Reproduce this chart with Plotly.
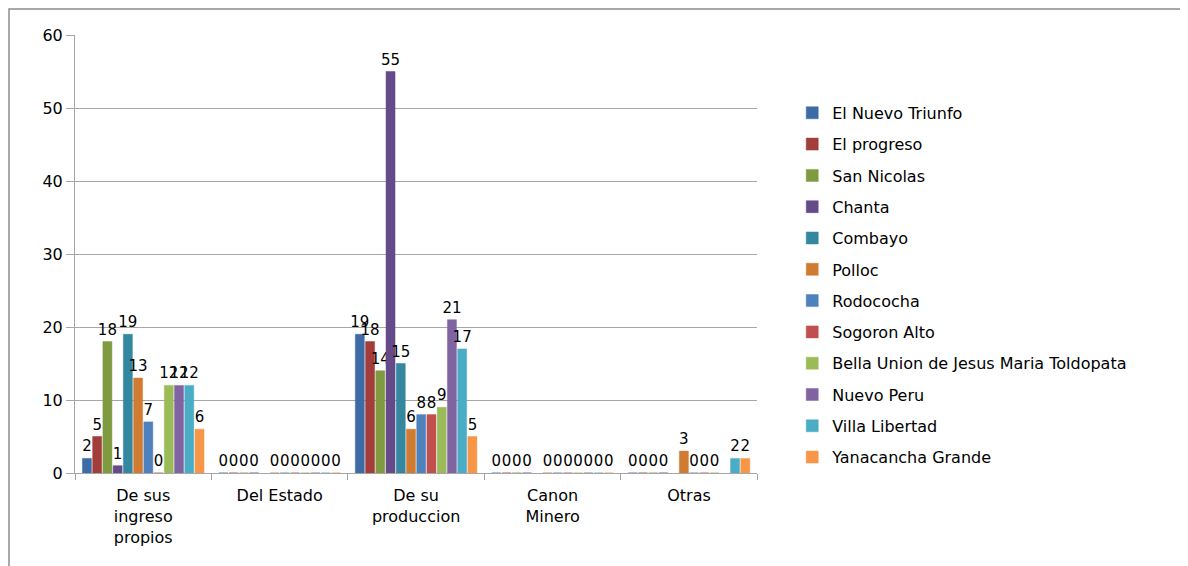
import plotly.graph_objects as go

categories = ["De sus<br>ingreso<br>propios", "Del Estado", "De su<br>produccion", "Canon<br>Minero", "Otras"]

series_names = [
    "El Nuevo Triunfo", "El progreso", "San Nicolas", "Chanta", "Combayo", "Polloc",
    "Rodococha", "Sogoron Alto", "Bella Union de Jesus Maria Toldopata", "Nuevo Peru",
    "Villa Libertad", "Yanacancha Grande",
]

# one list per series, values across the 5 categories (None = blank cell)
el_nuevo_triunfo = [2, 0, 19, 0, 0]
el_progreso = [5, 0, 18, 0, 0]
san_nicolas = [18, 0, 14, 0, 0]
chanta = [1, 0, 55, 0, 0]
combayo = [19, None, 15, None, None]
polloc = [13, 0, 6, 0, 3]
rodococha = [7, 0, 8, 0, 0]
sogoron_alto = [0, 0, 8, 0, 0]
bella_union = [12, 0, 9, 0, 0]
nuevo_peru = [12, 0, 21, 0, None]
villa_libertad = [12, 0, 17, 0, 2]
yanacancha_grande = [6, 0, 5, 0, 2]

values = [
    el_nuevo_triunfo, el_progreso, san_nicolas, chanta, combayo, polloc,
    rodococha, sogoron_alto, bella_union, nuevo_peru, villa_libertad, yanacancha_grande,
]

colors = [
    "#3D6BA6", "#A33D3A", "#7E9B40", "#654A8A", "#33879E", "#D07B32",
    "#4F81BD", "#C0504D", "#9BBB59", "#8064A2", "#4BACC6", "#F79646",
]

fig = go.Figure()
for name, vals, col in zip(series_names, values, colors):
    fig.add_trace(go.Bar(
        name=name,
        legendgroup=name,
        x=categories,
        y=vals,
        marker=dict(color=col, line=dict(color=col, width=0.5)),
        text=[("" if v is None else str(v)) for v in vals],
        textposition="outside",
        constraintext="none",
        textfont=dict(family="DejaVu Sans", size=15, color="#000000"),
        cliponaxis=False,
    ))

fig.update_layout(
    width=1188,
    height=566,
    barmode="group",
    bargap=0.1,
    bargroupgap=0.12,
    plot_bgcolor="white",
    paper_bgcolor="white",
    margin=dict(l=67, r=60, t=27, b=101),
    font=dict(family="DejaVu Sans", size=16, color="#000000"),
    xaxis=dict(
        domain=[0, 0.643],
        showline=True,
        linecolor="#A6A6A6",
        ticks="outside",
        tickcolor="#A6A6A6",
        ticklen=6,
        tickson="boundaries",
        ticklabelstandoff=8,
        tickfont=dict(size=16),
    ),
    yaxis=dict(
        range=[0, 60],
        dtick=10,
        showgrid=True,
        gridcolor="#A6A6A6",
        gridwidth=1,
        showline=True,
        linecolor="#A6A6A6",
        ticks="outside",
        tickcolor="#A6A6A6",
        ticklen=8,
        tickfont=dict(size=16),
        zeroline=False,
    ),
    legend=dict(
        x=0.676,
        y=0.861,
        xanchor="left",
        yanchor="top",
        font=dict(size=16),
        tracegroupgap=7.5,
        itemwidth=30,
        bgcolor="rgba(0,0,0,0)",
    ),
    shapes=[
        dict(type="rect", xref="paper", yref="paper",
             x0=-0.0622, x1=1.3, y0=-0.4, y1=1.0594,
             line=dict(color="#8C8C8C", width=1.5)),
    ],
)

fig.write_html("out.html")
